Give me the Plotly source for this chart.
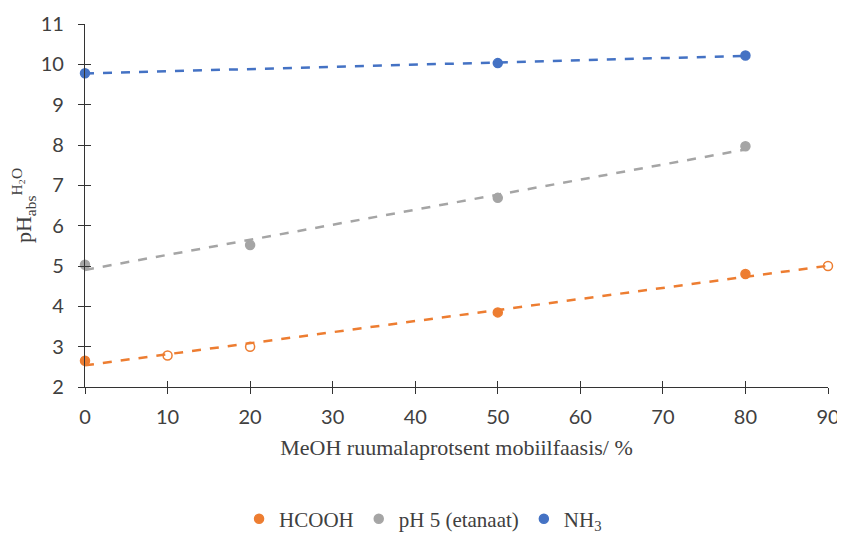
import numpy as np
import plotly.graph_objects as go

# Data
hcooh_x = [0, 10, 20, 50, 80, 90]
hcooh_y = [2.65, 2.78, 3.0, 3.85, 4.8, 5.0]
hcooh_open = [False, True, True, False, False, True]

ph5_x = [0, 20, 50, 80]
ph5_y = [5.03, 5.52, 6.69, 7.97]

nh3_x = [0, 50, 80]
nh3_y = [9.78, 10.03, 10.22]

x_ticks = [0, 10, 20, 30, 40, 50, 60, 70, 80, 90]
y_ticks = [2, 3, 4, 5, 6, 7, 8, 9, 10, 11]

ORANGE = "#ED7D31"
GRAY = "#A5A5A5"
BLUE = "#4472C4"
SERIF = "Liberation Serif, Times New Roman, serif"
SANS = "Lato, Open Sans, sans-serif"

fig = go.Figure()

def add_series(xs, ys, color, name, symbols=None):
    xs = np.array(xs, dtype=float)
    ys = np.array(ys, dtype=float)
    k, b = np.polyfit(xs, ys, 1)
    tx = [xs.min(), xs.max()]
    ty = [k * tx[0] + b, k * tx[1] + b]
    fig.add_trace(go.Scatter(
        x=tx, y=ty, mode="lines", showlegend=False, hoverinfo="skip",
        line=dict(color=color, width=2.5, dash="dash"), cliponaxis=False))
    fig.add_trace(go.Scatter(
        x=xs, y=ys, mode="markers", name=name, cliponaxis=False,
        marker=dict(color=color, size=9,
                    symbol=symbols if symbols is not None else "circle",
                    line=dict(color=color, width=1.5))))

add_series(hcooh_x, hcooh_y, ORANGE, "HCOOH",
           ["circle-open" if o else "circle" for o in hcooh_open])
add_series(ph5_x, ph5_y, GRAY, "pH 5 (etanaat)")
add_series(nh3_x, nh3_y, BLUE, "NH<sub>3</sub>")

# invisible trace for the overlay axes (inside half of crossing ticks)
fig.add_trace(go.Scatter(x=[0], y=[2], xaxis="x2", yaxis="y2", mode="markers",
                         marker=dict(opacity=0), showlegend=False, hoverinfo="skip"))

axis_common = dict(showgrid=False, zeroline=False, showline=True, automargin=False,
                   linecolor="#333333", linewidth=1.3,
                   tickcolor="#333333", tickwidth=1.3, ticklen=6,
                   tickfont=dict(family=SANS, size=20, color="#404040"))

fig.update_layout(
    width=837, height=529,
    margin=dict(l=77, r=17, t=16, b=150, autoexpand=False),
    paper_bgcolor="white", plot_bgcolor="white",
    font=dict(family=SERIF, color="#404040"),
    xaxis=dict(range=[0, 90], tickvals=x_ticks, ticks="outside", ticklabelstandoff=6,
               title=dict(text="MeOH ruumalaprotsent mobiilfaasis/ %",
                          font=dict(family=SERIF, size=22, color="#404040"), standoff=12),
               **axis_common),
    yaxis=dict(range=[2, 11], tickvals=y_ticks, ticks="outside", ticklabelstandoff=10,
               title=dict(text="pH<sub>abs</sub><sup>H₂O</sup>",
                          font=dict(family=SERIF, size=22, color="#404040"), standoff=4),
               **axis_common),
    xaxis2=dict(range=[0, 90], tickvals=x_ticks, ticks="inside", overlaying="x",
                side="bottom", showticklabels=False, **axis_common),
    yaxis2=dict(range=[2, 11], tickvals=y_ticks, ticks="inside", overlaying="y",
                side="left", showticklabels=False, **axis_common),
    legend=dict(orientation="h", x=0.455, xanchor="center",
                yref="container", y=0.034, yanchor="middle",
                font=dict(family=SERIF, size=21, color="#404040"),
                itemwidth=30, bgcolor="rgba(0,0,0,0)"),
    showlegend=True,
)

fig.write_html("out.html")
